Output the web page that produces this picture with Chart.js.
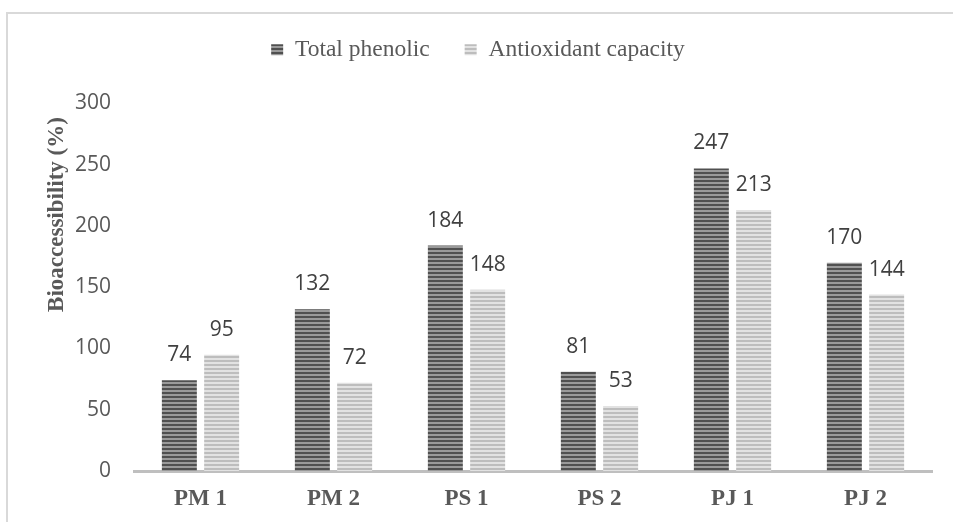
<!DOCTYPE html>
<html>
<head>
<meta charset="utf-8">
<script src="https://cdn.jsdelivr.net/npm/chart.js@4"></script>
<style>
  body { margin: 0; background: #fff; }
  canvas { display: block; }
</style>
</head>
<body>
<canvas id="bioChart" width="953" height="522"></canvas>
<script>
// Data
const categories = ['PM 1', 'PM 2', 'PS 1', 'PS 2', 'PJ 1', 'PJ 2'];
const totalPhenolic = [74, 132, 184, 81, 247, 170];
const antioxidantCapacity = [95, 72, 148, 53, 213, 144];
const yTicks = [0, 50, 100, 150, 200, 250, 300];

// horizontal line fill like the Excel pattern
function stripes(dark, light) {
    const c = document.createElement('canvas');
    c.width = 4;
    c.height = 4;
    const g = c.getContext('2d');
    g.fillStyle = light;
    g.fillRect(0, 0, 4, 4);
    g.fillStyle = dark;
    g.fillRect(0, 0, 4, 2);
    return g.createPattern(c, 'repeat');
}

const serif = "'Liberation Serif', 'Times New Roman', serif";
const sans = "'Open Sans', 'Liberation Sans', sans-serif";

// push the plot down below the legend
const legendGap = {
    id: 'legendGap',
    beforeInit(chart) {
        const fit = chart.legend.fit;
        chart.legend.fit = function() {
            fit.bind(chart.legend)();
            this.height += 32;
        };
    }
};

// outer frame (only top and left edge show in the picture)
const frame = {
    id: 'frame',
    beforeDraw(chart) {
        const ctx = chart.ctx;
        ctx.save();
        ctx.strokeStyle = '#d9d9d9';
        ctx.lineWidth = 2;
        ctx.beginPath();
        ctx.moveTo(7, chart.height + 5);
        ctx.lineTo(7, 13);
        ctx.lineTo(chart.width + 5, 13);
        ctx.stroke();
        ctx.restore();
    }
};

// value labels above the bars
const barValues = {
    id: 'barValues',
    afterDatasetsDraw(chart) {
        const ctx = chart.ctx;
        ctx.save();
        ctx.font = '21px ' + sans;
        ctx.fillStyle = '#404040';
        ctx.textAlign = 'center';
        ctx.textBaseline = 'middle';
        chart.data.datasets.forEach((ds, i) => {
            chart.getDatasetMeta(i).data.forEach((bar, j) => {
                ctx.fillText(ds.data[j], bar.x, bar.y - 25);
            });
        });
        ctx.restore();
    }
};

// y axis title, sits above the middle of the axis in the reference
const yTitle = {
    id: 'yTitle',
    afterDraw(chart) {
        const ctx = chart.ctx;
        const area = chart.chartArea;
        ctx.save();
        ctx.translate(63, area.top + 111);
        ctx.rotate(-Math.PI / 2);
        ctx.font = 'bold 23px ' + serif;
        ctx.fillStyle = '#595959';
        ctx.textAlign = 'center';
        ctx.textBaseline = 'alphabetic';
        ctx.fillText('Bioaccessibility (%)', 0, 0);
        ctx.restore();
    }
};

const ctx = document.getElementById('bioChart').getContext('2d');

new Chart(ctx, {
    type: 'bar',
    data: {
        labels: categories,
        datasets: [
            {
                label: 'Total phenolic',
                data: totalPhenolic,
                backgroundColor: stripes('#505050', '#9a9a9a'),
                categoryPercentage: 0.636,
                barPercentage: 0.827
            },
            {
                label: 'Antioxidant capacity',
                data: antioxidantCapacity,
                backgroundColor: stripes('#bdbdbd', '#e2e2e2'),
                categoryPercentage: 0.636,
                barPercentage: 0.827
            }
        ]
    },
    options: {
        responsive: false,
        animation: false,
        layout: {
            padding: { top: 3, left: 24, right: 21, bottom: 0 }
        },
        plugins: {
            legend: {
                position: 'top',
                labels: {
                    font: { family: serif, size: 23.5 },
                    color: '#595959',
                    boxWidth: 12,
                    boxHeight: 11,
                    padding: 35
                }
            },
            tooltip: { enabled: false }
        },
        scales: {
            x: {
                grid: { display: false, drawTicks: false },
                border: { display: true, color: '#bfbfbf', width: 3 },
                ticks: {
                    font: { family: serif, size: 23, weight: 'bold' },
                    color: '#595959',
                    padding: 14
                },
                afterFit(scale) {
                    scale.height = 51;
                }
            },
            y: {
                min: 0,
                max: 300,
                afterBuildTicks(scale) {
                    scale.ticks = yTicks.map(v => ({ value: v }));
                },
                grid: { display: false, drawTicks: false },
                border: { display: false },
                ticks: {
                    font: { family: sans, size: 21 },
                    color: '#595959',
                    padding: 23
                },
                afterFit(scale) {
                    scale.width = 110;
                }
            }
        }
    },
    plugins: [legendGap, frame, barValues, yTitle]
});
</script>
</body>
</html>
